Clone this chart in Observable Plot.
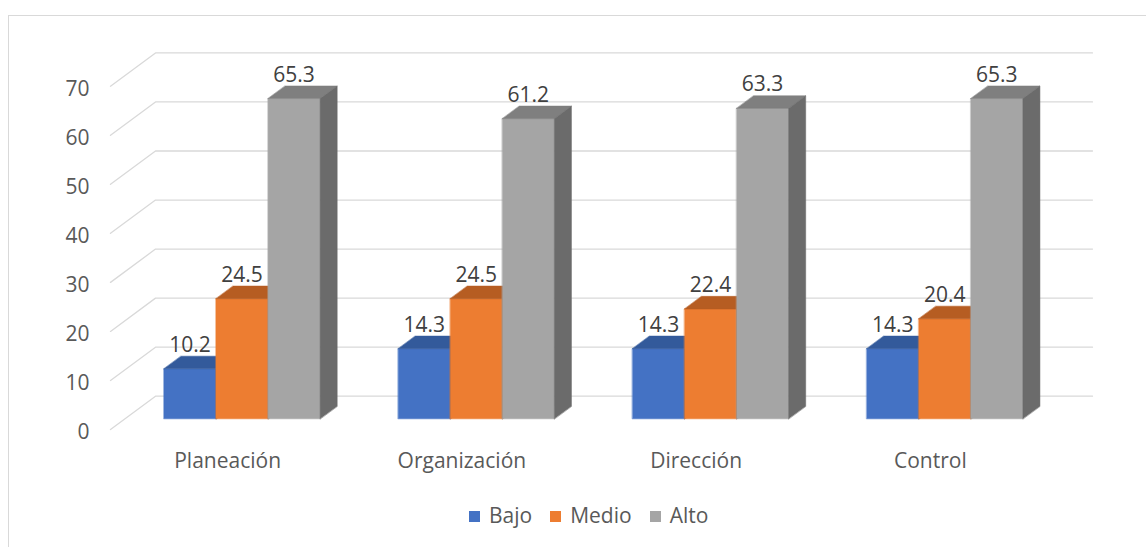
<!DOCTYPE html>
<html><head><meta charset="utf-8">
<script src="https://cdn.jsdelivr.net/npm/d3@7"></script>
<script src="https://cdn.jsdelivr.net/npm/@observablehq/plot@0.6"></script>
<style>
html,body{margin:0;padding:0;background:#fff;overflow:hidden;width:1146px;height:547px;}
#wrap{position:relative;width:1146px;height:547px;font-family:"Open Sans",sans-serif;overflow:hidden;}
#frame{position:absolute;left:8px;top:15px;width:1200px;height:600px;border:1px solid #d9d9d9;box-sizing:border-box;}
#chart{position:absolute;left:0;top:0;}
#legend{position:absolute;left:469px;top:505px;display:flex;align-items:center;gap:18px;font-size:21px;line-height:20px;color:#595959;}
.item{display:flex;align-items:center;}
.sw{width:11px;height:11px;margin-right:9px;margin-top:2px;}
</style></head><body><div id="wrap"><div id="frame"></div><div id="chart"></div><div id="legend"></div></div>
<script>
const categories = ["Planeación", "Organización", "Dirección", "Control"];
const series = ["Bajo", "Medio", "Alto"];
const bajo = [10.2, 14.3, 14.3, 14.3];
const medio = [24.5, 24.5, 22.4, 20.4];
const alto = [65.3, 61.2, 63.3, 65.3];
const yTicks = [0, 10, 20, 30, 40, 50, 60, 70];

const frontColors = ["#4472C4", "#ED7D31", "#A5A5A5"];
const topColors = ["#335A9B", "#B65D22", "#7F7F7F"];
const sideColors = ["#2B4D8A", "#A4521B", "#6B6B6B"];

const W = 1146, H = 490;
const mLeft = 110, mRight = 99, mTop = 85.7, mBottom = H - 429;
const bandPx = (W - mLeft - mRight) / categories.length;
const pxPerUnit = (429 - 85.7) / 70;
const DX = 45 / bandPx, DY = 33.3 / pxPerUnit; // full depth offset in data units
const d0 = 0.32, d1 = 0.70;
const barW = 2 / 9, groupOff = 1 / 6;

const valuesBySeries = [bajo, medio, alto];
const faces = [];
const labelData = [];
categories.forEach((c, i) => {
  series.forEach((s, j) => {
    const v = valuesBySeries[j][i];
    const xl = i + groupOff + j * barW, xr = xl + barW;
    const P = (x, y, d) => ({x: x + d * DX, y: y + d * DY});
    const id = c + "-" + s;
    const push = (name, color, pts) => pts.forEach(p => faces.push({id: id + name, color, ...p}));
    push("front", frontColors[j], [P(xl, 0, d0), P(xr, 0, d0), P(xr, v, d0), P(xl, v, d0)]);
    push("top", topColors[j], [P(xl, v, d0), P(xr, v, d0), P(xr, v, d1), P(xl, v, d1)]);
    push("side", sideColors[j], [P(xr, 0, d0), P(xr, v, d0), P(xr, v, d1), P(xr, 0, d1)]);
    labelData.push({x: xl + barW / 2 + d0 * DX, y: v + d1 * DY, text: v.toFixed(1)});
  });
});

const grid = [];
yTicks.forEach(t => {
  grid.push({id: t, x: 0, y: t}, {id: t, x: DX, y: t + DY}, {id: t, x: categories.length + DX, y: t + DY});
});

const chart = Plot.plot({
  width: W, height: H,
  marginLeft: mLeft, marginRight: mRight, marginTop: mTop, marginBottom: mBottom,
  style: {fontFamily: "Open Sans, sans-serif", fontSize: "21px", color: "#595959", background: "transparent", overflow: "visible"},
  x: {type: "linear", domain: [0, categories.length], axis: null, label: null},
  y: {type: "linear", domain: [0, 70], axis: null, label: null},
  color: {type: "identity"},
  marks: [
    Plot.line(grid, {x: "x", y: "y", z: "id", stroke: "#d9d9d9", strokeWidth: 1.3}),
    Plot.axisY(yTicks, {tickSize: 0, tickPadding: 21, dy: 3, fontSize: 21, label: null}),
    Plot.line(faces, {x: "x", y: "y", z: "id", fill: "color", stroke: "color", strokeWidth: 0.5, curve: "linear-closed"}),
    Plot.text(labelData, {x: "x", y: "y", text: "text", dy: -11, fill: "#404040", fontSize: 21}),
    Plot.text(categories, {x: (d, i) => i + 0.5, y: () => 0, text: d => d, dy: 32, fill: "#595959", fontSize: 21})
  ]
});
document.getElementById("chart").appendChild(chart);

const legend = document.getElementById("legend");
series.forEach((s, j) => {
  const item = document.createElement("div");
  item.className = "item";
  const sw = document.createElement("span");
  sw.className = "sw";
  sw.style.background = frontColors[j];
  const t = document.createElement("span");
  t.textContent = s;
  item.appendChild(sw); item.appendChild(t);
  legend.appendChild(item);
});
</script>
</body></html>
